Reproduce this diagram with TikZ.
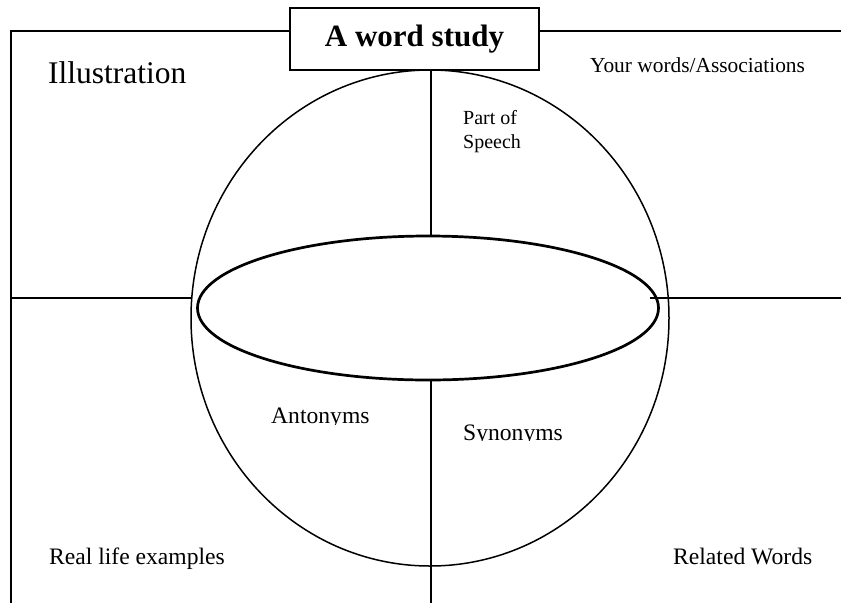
\documentclass[tikz,border=0pt]{standalone}
\usepackage{fontspec}
\setmainfont{Liberation Serif}
\usetikzlibrary{shapes.geometric, positioning}

\begin{document}
\begin{tikzpicture}
	[
	x = 1pt, y = -1pt,
	rule/.style = {draw, line width = 2pt},
	word/.style = {anchor = base west, inner sep = 0pt},
	ring/.style = {draw, ellipse, inner sep = 0pt}
	]
	\useasboundingbox (0, 0) rectangle (841, 603);
	
	\draw[rule] (11, 603) -- (11, 31) -- (841, 31);
	\node[ring, line width = 1.5pt, minimum width = 478pt, minimum height = 496pt] (globe) at (430, 318) {};
	\node[ring, line width = 2.7pt, minimum width = 461pt, minimum height = 144pt] (lens) at (428, 308) {};
	\node[draw, fill = white, line width = 2.7pt, minimum width = 249pt, minimum height = 62pt, font = \fontsize{31}{36}\selectfont\bfseries] (title) at (414.5, 39) {A word study};
	
	\coordinate (top) at (431, 70);
	\coordinate (foot) at (431, 603);
	\draw[rule] (11, 298) -- (191, 298);
	\draw[rule] (650, 298) -- (841, 298);
	\draw[rule] (top) -- (top |- lens.north);
	\draw[rule] (foot |- lens.south) -- (foot);
	
	\node[word, font = \fontsize{31.5}{36}\selectfont] (illus) at (48, 83) {Illustration};
	\node[word, font = \fontsize{21.4}{26}\selectfont] (assoc) at (590, 72) {Your words/Associations};
	\node[word, font = \fontsize{20}{24}\selectfont, align = left] (pos) at (463, 148) {Part of\\Speech};
	\begin{scope}
		\clip (250, 380) rectangle (425, 424);
		\node[word, font = \fontsize{23.6}{28}\selectfont] (anto) at (271, 423) {Antonyms};
	\end{scope}
	\begin{scope}
		\clip (440, 390) rectangle (600, 440);
		\node[word, font = \fontsize{23.6}{28}\selectfont] (syno) at (463, 440) {Synonyms};
	\end{scope}
	\node[word, font = \fontsize{23.6}{28}\selectfont] (real) at (49, 564) {Real life examples};
	\node[word, font = \fontsize{23.6}{28}\selectfont] (rel) at (673, 564) {Related Words};
\end{tikzpicture}
\end{document}
